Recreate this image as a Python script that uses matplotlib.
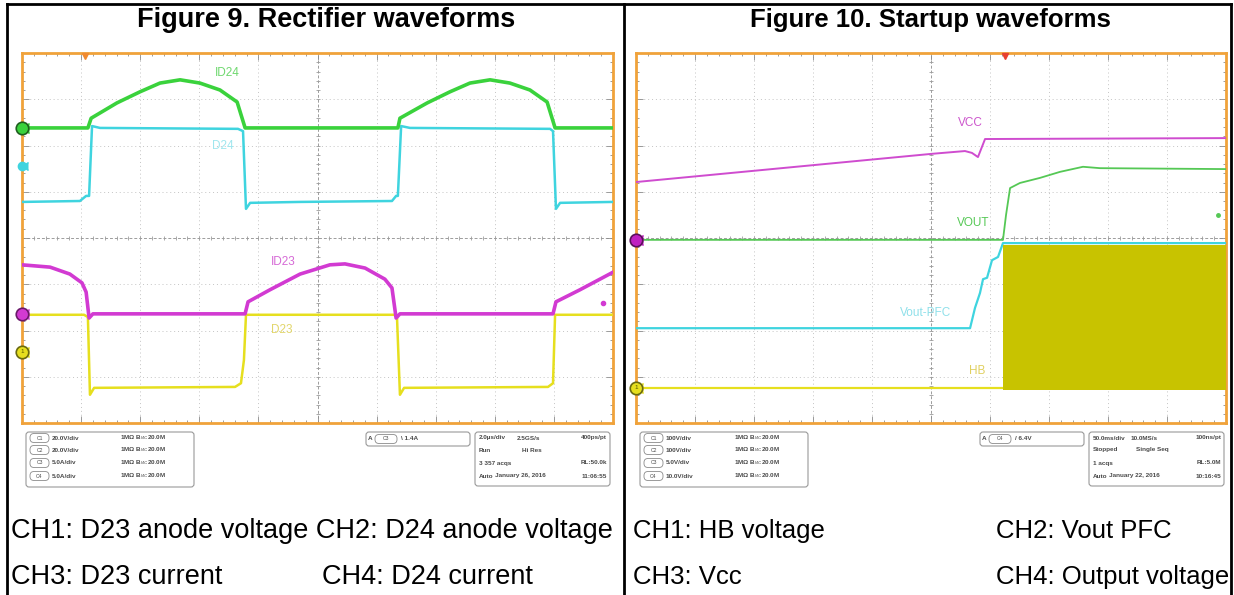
import matplotlib
matplotlib.use("Agg")
import matplotlib.pyplot as plt
from matplotlib.patches import FancyBboxPatch

plt.rcParams['font.family'] = ['Liberation Sans', 'DejaVu Sans']

# ---- Figure 9: rectifier waveforms (time in us, 2 us/div; level in divisions) ----
id24_t = [0, 2.23, 2.34, 3.21, 3.99, 4.67, 5.35, 6.02, 6.70, 7.28, 7.55, 12.72, 12.79, 13.71,
          14.48, 15.16, 15.84, 16.51, 17.19, 17.77, 18.04, 20]
id24_v = [2.38, 2.38, 2.59, 2.92, 3.16, 3.35, 3.42, 3.35, 3.20, 2.94, 2.38, 2.38, 2.59, 2.92,
          3.16, 3.35, 3.42, 3.35, 3.20, 2.94, 2.38, 2.38]

d24_t = [0, 1.96, 2.17, 2.27, 2.37, 2.64, 7.31, 7.48, 7.58, 7.72, 9.41, 12.52, 12.66, 12.72,
         12.83, 13.13, 17.87, 17.97, 18.07, 18.21, 20]
d24_v = [0.78, 0.80, 0.91, 0.91, 2.42, 2.38, 2.36, 2.31, 0.63, 0.76, 0.78, 0.80, 0.91, 0.91,
         2.42, 2.38, 2.36, 2.31, 0.63, 0.76, 0.78]

id23_t = [0, 0.95, 1.62, 2.03, 2.17, 2.27, 2.40, 7.55, 7.65, 8.39, 9.41, 10.42, 10.93, 11.61,
          12.28, 12.52, 12.66, 12.79, 17.97, 18.07, 18.88, 20]
id23_v = [-0.58, -0.63, -0.78, -0.97, -1.17, -1.73, -1.64, -1.64, -1.38, -1.12, -0.78, -0.58,
          -0.56, -0.65, -0.89, -1.08, -1.73, -1.64, -1.64, -1.38, -1.12, -0.74]

d23_t = [0, 2.10, 2.23, 2.30, 2.44, 7.21, 7.41, 7.51, 7.58, 12.59, 12.69, 12.79, 12.93, 17.80,
         17.97, 18.04, 20]
d23_v = [-1.66, -1.66, -1.71, -3.39, -3.24, -3.22, -3.14, -2.64, -1.66, -1.66, -1.71, -3.39,
         -3.24, -3.22, -3.14, -1.66, -1.66]

# ---- Figure 10: startup waveforms (time in ms, 50 ms/div) ----
vcc_t = [0, 250.8, 278.8, 284.7, 289.8, 295.8, 500]
vcc_v = [1.21, 1.82, 1.88, 1.84, 1.75, 2.14, 2.16]

vout_t = [0, 311.0, 313.6, 317.0, 325.4, 342.4, 359.3, 378.8, 393.2, 500]
vout_v = [-0.04, -0.04, 0.50, 1.08, 1.19, 1.30, 1.43, 1.54, 1.51, 1.49]

pfc_t = [0, 283.1, 287.3, 291.5, 294.1, 297.5, 301.7, 306.8, 311.0, 500]
pfc_v = [-1.95, -1.95, -1.51, -1.19, -0.89, -0.86, -0.48, -0.41, -0.11, -0.11]

hb_t = [0, 311.0]
hb_v = [-3.24, -3.24]
hb_burst_t = [311.0, 500]
hb_burst_top = -0.15
hb_burst_bottom = -3.29

left_rows = [("C1", "20.0V/div"), ("C2", "20.0V/div"), ("C3", "5.0A/div"), ("C4", "5.0A/div")]
right_rows = [("C1", "100V/div"), ("C2", "100V/div"), ("C3", "5.0V/div"), ("C4", "10.0V/div")]
left_acq = [("2.0µs/div", "2.5GS/s", "400ps/pt"), ("Run", "Hi Res", ""),
            ("3 357 acqs", "", "RL:50.0k"), ("Auto", "January 26, 2016", "11:06:55")]
right_acq = [("50.0ms/div", "10.0MS/s", "100ns/pt"), ("Stopped", "Single Seq", ""),
             ("1 acqs", "", "RL:5.0M"), ("Auto", "January 22, 2016", "10:16:45")]

GREEN = '#3ad23c'
CYAN = '#3fd4df'
MAGENTA = '#d23ad2'
YELLOW = '#e6df1e'

W, H = 1234, 595
fig = plt.figure(figsize=(W / 100, H / 100), dpi=100)
bg = fig.add_axes([0, 0, 1, 1])
bg.set_xlim(0, W)
bg.set_ylim(H, 0)
bg.axis('off')

# table borders
bg.plot([7, 7], [4, H], color='k', lw=2)
bg.plot([624, 624], [4, H], color='k', lw=2)
bg.plot([1231, 1231], [4, H], color='k', lw=2)
bg.plot([7, 1231], [4, 4], color='k', lw=2)

bg.text(326, 27, "Figure 9. Rectifier waveforms", ha='center', va='baseline',
        fontsize=19.5, fontweight='bold')
bg.text(930, 27, "Figure 10. Startup waveforms", ha='center', va='baseline',
        fontsize=18.5, fontweight='bold')

left_cap = dict(fontsize=19.5, va='center', ha='left')
right_cap = dict(fontsize=18.5, va='center', ha='left')
bg.text(11, 531, "CH1: D23 anode voltage CH2: D24 anode voltage", **left_cap)
bg.text(11, 577, "CH3: D23 current", **left_cap)
bg.text(322, 577, "CH4: D24 current", **left_cap)
bg.text(633, 531, "CH1: HB voltage", **right_cap)
bg.text(996, 531, "CH2: Vout PFC", **right_cap)
bg.text(633, 577, "CH3: Vcc", **right_cap)
bg.text(996, 577, "CH4: Output voltage", **right_cap)


def rbox(x0, y0, w, h, r=3, ec='#9a9a9a', lw=0.8):
    bg.add_patch(FancyBboxPatch((x0, y0), w, h, boxstyle=f"round,pad=0,rounding_size={r}",
                                fc='white', ec=ec, lw=lw))


def info_panel(x0, rows, trig_ch, trig_txt, acq):
    tk = dict(fontsize=4.6, color='#4a4a4a', fontweight='bold', va='center')
    ys = [438, 450, 463, 476]
    rbox(x0 + 4, 432, 168, 55)
    for y, (ch, scale) in zip(ys, rows):
        rbox(x0 + 8, y - 4.5, 19, 9, r=4, ec='#8a8a8a', lw=0.6)
        bg.text(x0 + 17.5, y, ch, ha='center', fontsize=3.6, color='#4a4a4a', va='center')
        bg.text(x0 + 30, y, scale, **tk)
        bg.text(x0 + 98, y, "1MΩ B$_W$:20.0M", **tk)
    # trigger box
    rbox(x0 + 344, 432, 104, 14)
    bg.text(x0 + 348, 439, "A", ha='center', fontsize=4.6, color='#4a4a4a',
            fontweight='bold', va='center')
    rbox(x0 + 353, 434.5, 22, 9, r=4, ec='#8a8a8a', lw=0.6)
    bg.text(x0 + 364, 439, trig_ch, ha='center', fontsize=3.6, color='#4a4a4a', va='center')
    bg.text(x0 + 379, 439, trig_txt, **tk)
    # acquisition box
    rbox(x0 + 453, 432, 135, 54)
    for i, (y, (a, b, c)) in enumerate(zip(ys, acq)):
        bg.text(x0 + 457, y, a, **tk)
        if b:
            bx = [x0 + 495, x0 + 500, x0 + 470, x0 + 473][i]
            bg.text(bx, y, b, **tk)
        if c:
            bg.text(x0 + 585, y, c, ha='right', **tk)


info_panel(22, left_rows, "C3", "\\ 1.4A", left_acq)
info_panel(636, right_rows, "C4", "/ 6.4V", right_acq)


def scope_axes(x0, x1, y0, y1, tmax):
    ax = fig.add_axes([x0 / W, 1 - y1 / H, (x1 - x0) / W, (y1 - y0) / H])
    ax.set_xlim(0, tmax)
    ax.set_ylim(-4, 4)
    dx = tmax / 10
    for i in range(1, 10):
        if i != 5:
            ax.axvline(i * dx, color='#c4c4c4', lw=0.7, ls=(0, (1, 3)), zorder=0)
    for j in range(-3, 4):
        if j != 0:
            ax.axhline(j, color='#c4c4c4', lw=0.7, ls=(0, (1, 3)), zorder=0)
    ax.axvline(5 * dx, color='#9c9c9c', lw=0.7, ls=(0, (3, 2)), zorder=0)
    ax.axhline(0, color='#9c9c9c', lw=0.7, ls=(0, (3, 2)), zorder=0)
    xt = [k * dx / 5 for k in range(51)]
    yt = [k / 5 - 4 for k in range(41)]
    ax.plot(xt, [0] * len(xt), ls='none', marker='|', ms=3.5, mew=0.6, color='#9c9c9c', zorder=0)
    ax.plot([5 * dx] * len(yt), yt, ls='none', marker='_', ms=3.5, mew=0.6, color='#9c9c9c', zorder=0)
    ax.set_xticks([k * dx for k in range(11)])
    ax.set_xticks(xt, minor=True)
    ax.set_yticks(range(-4, 5))
    ax.set_yticks(yt, minor=True)
    ax.tick_params(which='both', direction='in', top=True, right=True, labelbottom=False,
                   labelleft=False, color='#8c8c8c', width=0.6)
    ax.tick_params(which='major', length=5)
    ax.tick_params(which='minor', length=2.5)
    for s in ax.spines.values():
        s.set_color('#f0a23a')
        s.set_linewidth(2)
    return ax


def ground_marker(ax, y, color, edge, label=None):
    ax.plot(0, y, marker='o', ms=9, mfc=color, mec=edge, mew=1.2, clip_on=False, zorder=20)
    ax.plot(0, y, marker=4, ms=7, color=color, clip_on=False, zorder=19)
    if label:
        ax.text(0, y, label, ha='center', va='center', fontsize=4.5, color='#555500',
                zorder=21, clip_on=False)


# ---- left scope ----
ax1 = scope_axes(22, 613, 53, 423, 20)
ax1.plot(d24_t, d24_v, color=CYAN, lw=1.8, zorder=3)
ax1.plot(id24_t, id24_v, color=GREEN, lw=2.6, zorder=4)
ax1.plot(d23_t, d23_v, color=YELLOW, lw=1.8, zorder=3)
ax1.plot(id23_t, id23_v, color=MAGENTA, lw=2.6, zorder=4)
ax1.text(6.94, 3.57, "ID24", color='#6fd86f', fontsize=8.5, ha='center', va='center')
ax1.text(6.80, 1.99, "D24", color='#9fe6ee', fontsize=8.5, ha='center', va='center')
ax1.text(8.83, -0.52, "ID23", color='#d66ad6', fontsize=8.5, ha='center', va='center')
ax1.text(8.80, -1.99, "D23", color='#e2d66a', fontsize=8.5, ha='center', va='center')
ground_marker(ax1, 2.38, GREEN, '#1f5f1f')
ax1.plot(0, 1.56, marker='o', ms=6, color=CYAN, clip_on=False, zorder=20)
ax1.plot(0, 1.56, marker=4, ms=6, color=CYAN, clip_on=False, zorder=19)
ground_marker(ax1, -1.64, MAGENTA, '#6a1a6a')
ground_marker(ax1, -2.46, YELLOW, '#6a6a10', "1")
ax1.plot(2.13, 3.93, marker='v', ms=5, color='#f08a30', clip_on=False, zorder=20)
ax1.plot(19.66, -1.41, marker='o', ms=3, color=MAGENTA, zorder=5)

# ---- right scope ----
ax2 = scope_axes(636, 1226, 53, 423, 500)
ax2.fill_between(hb_burst_t, hb_burst_bottom, hb_burst_top, color='#c8c300', lw=0, zorder=5)
ax2.plot(pfc_t, pfc_v, color=CYAN, lw=1.6, zorder=3)
ax2.plot(hb_t, hb_v, color=YELLOW, lw=1.6, zorder=3)
ax2.plot(vout_t, vout_v, color='#55c855', lw=1.3, zorder=4)
ax2.plot(vcc_t, vcc_v, color='#cf4ccf', lw=1.4, zorder=4)
ax2.text(283, 2.49, "VCC", color='#cc55cc', fontsize=8.5, ha='center', va='center')
ax2.text(285.6, 0.32, "VOUT", color='#55c855', fontsize=8.5, ha='center', va='center')
ax2.text(245, -1.62, "Vout-PFC", color='#8fe0ea', fontsize=8.5, ha='center', va='center')
ax2.text(289, -2.88, "HB", color='#e0d060', fontsize=8.5, ha='center', va='center')
ground_marker(ax2, -0.04, '#c020c0', '#5a105a')
ground_marker(ax2, -3.24, YELLOW, '#6a6a10', "1")
ax2.plot(312.7, 3.93, marker='v', ms=4, color='#e84030', clip_on=False, zorder=20)
ax2.plot(493, 0.50, marker='o', ms=2.5, color='#55c855', zorder=6)

fig.savefig("out.png", dpi=100)
